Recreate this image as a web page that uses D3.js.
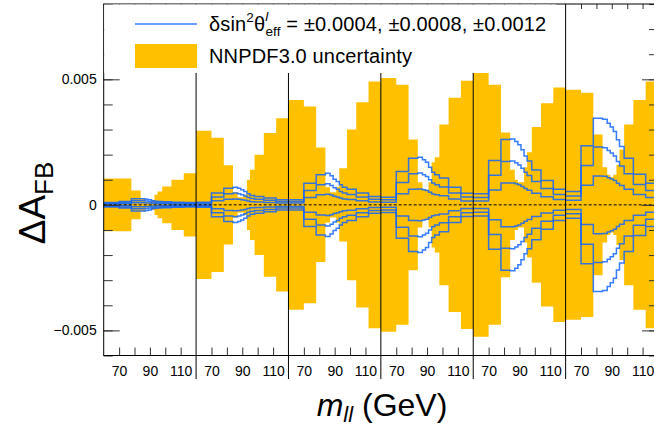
<!DOCTYPE html>
<html>
<head>
<meta charset="utf-8">
<script src="https://cdn.jsdelivr.net/npm/d3@7"></script>
<style>
body{margin:0;background:#fff;}
text{font-family:"Liberation Sans",Arial,sans-serif;fill:#000;}
</style>
</head>
<body>
<svg id="chart"></svg>
<script>
// mass bins (GeV), same in every panel
var massEdges = [60, 70, 78, 84, 87, 89, 91, 93, 95, 98, 104, 112, 120];
var panels = [1, 2, 3, 4, 5, 6];
var massTicks = [70, 80, 90, 100, 110];
var massLabels = [70, 90, 110];
var yMajor = [-0.005, 0, 0.005];
var yMinor = d3.range(-6, 9).map(function(k){return k*0.001;});

// NNPDF3.0 half width, one row per panel
var pdfUnc = [
  [0.00105, 0.00105, 0.00057, 0.00025, 0.00012, 0.0001, 0.0002, 0.0004, 0.00053, 0.00073, 0.0010, 0.00126],
  [0.00295, 0.00267, 0.00158, 0.0005, 0.0003, 0.0003, 0.0004, 0.0010, 0.0014, 0.0020, 0.00286, 0.00345],
  [0.00418, 0.00392, 0.00228, 0.0007, 0.0005, 0.0005, 0.0007, 0.00146, 0.00146, 0.0030, 0.00409, 0.00491],
  [0.00505, 0.00478, 0.0026, 0.0009, 0.0006, 0.0006, 0.0009, 0.0017, 0.0019, 0.0032, 0.00427, 0.00494],
  [0.00525, 0.00478, 0.00288, 0.0014, 0.0010, 0.0009, 0.0009, 0.0015, 0.0021, 0.0031, 0.00405, 0.00467],
  [0.00458, 0.00447, 0.0028, 0.0015, 0.0012, 0.0011, 0.0012, 0.0016, 0.0022, 0.0032, 0.00418, 0.00491]
];

// change of A_FB for +dsin2theta (the minus shifts are the mirror image)
var dAfb04 = [
  [0.00003, 0.00004, 0.00008, 0.00008, 0.00007, 0.00007, 0.00005, 0.00005, 0.00004, 0.00004, 0.00003, 0.00003],
  [0.00003, 0.00016, 0.00022, 0.00023, 0.00022, 0.0002, 0.00018, 0.00015, 0.00012, 0.00011, 0.00009, 0.00007],
  [0.00007, 0.00029, 0.0004, 0.00042, 0.00039, 0.00034, 0.00031, 0.00027, 0.00023, 0.00021, 0.00016, 0.00011],
  [0.0001, 0.00044, 0.00062, 0.00063, 0.0006, 0.00057, 0.0005, 0.00043, 0.0004, 0.00036, 0.00023, 0.00015],
  [0.00015, 0.00059, 0.00087, 0.00087, 0.00084, 0.0008, 0.00073, 0.00065, 0.00058, 0.00046, 0.00032, 0.00021],
  [0.00018, 0.00078, 0.00115, 0.00114, 0.00108, 0.00103, 0.00097, 0.00086, 0.00077, 0.00062, 0.00041, 0.00029]
];
var dAfb08 = [
  [0.00006, 0.00009, 0.00016, 0.00016, 0.00015, 0.00013, 0.00011, 0.00009, 0.00009, 0.00008, 0.00007, 0.00006],
  [0.00007, 0.00031, 0.00044, 0.00047, 0.00044, 0.0004, 0.00035, 0.00029, 0.00025, 0.00022, 0.00018, 0.00013],
  [0.00013, 0.00057, 0.0008, 0.00084, 0.00077, 0.00068, 0.00062, 0.00053, 0.00047, 0.00041, 0.00031, 0.00022],
  [0.0002, 0.00089, 0.00124, 0.00127, 0.0012, 0.00113, 0.001, 0.00087, 0.0008, 0.00071, 0.00047, 0.00031],
  [0.00029, 0.00118, 0.00173, 0.00175, 0.00168, 0.00159, 0.00146, 0.0013, 0.00117, 0.00093, 0.00065, 0.00041],
  [0.00035, 0.00157, 0.0023, 0.00227, 0.00217, 0.00207, 0.00195, 0.00173, 0.00155, 0.00124, 0.00081, 0.00057]
];
var dAfb12 = [
  [0.00009, 0.00013, 0.00024, 0.00024, 0.00022, 0.0002, 0.00016, 0.00014, 0.00013, 0.00012, 0.0001, 0.00009],
  [0.0001, 0.00047, 0.00066, 0.0007, 0.00066, 0.0006, 0.00053, 0.00044, 0.00037, 0.00033, 0.00027, 0.0002],
  [0.0002, 0.00086, 0.0012, 0.00126, 0.00116, 0.00102, 0.00093, 0.0008, 0.0007, 0.00062, 0.00047, 0.00033],
  [0.0003, 0.00133, 0.00186, 0.0019, 0.0018, 0.0017, 0.0015, 0.0013, 0.0012, 0.00107, 0.0007, 0.00046],
  [0.00044, 0.00177, 0.0026, 0.00262, 0.00252, 0.00239, 0.00219, 0.00195, 0.00175, 0.00139, 0.00097, 0.00062],
  [0.00053, 0.00235, 0.00345, 0.00341, 0.00325, 0.0031, 0.00292, 0.00259, 0.00232, 0.00186, 0.00122, 0.00086]
];

var screen = {width:654, height:427};
var plot = {left:103.7, right:658, top:4, bottom:355.5};
var lineBlue = "#1265ff";

var svg = d3.select("#chart")
    .attr("width", screen.width)
    .attr("height", screen.height);

var panelScale = d3.scaleBand()
    .domain(panels)
    .range([plot.left, plot.right]);

var massScale = d3.scaleLinear()
    .domain([60, 120])
    .range([0, panelScale.bandwidth()]);

var yScale = d3.scaleLinear()
    .domain([-0.006, 0.008])
    .range([plot.bottom, plot.top]);

var stepPoints = function(vals, p)
{
    return massEdges.map(function(m, j){
        return {x: panelScale(p) + massScale(m), v: vals[Math.min(j, vals.length-1)]};
    });
}

// orange bands
var bandArea = d3.area()
    .curve(d3.curveStepAfter)
    .x(function(d){return d.x;})
    .y0(function(d){return yScale(-d.v);})
    .y1(function(d){return yScale(d.v);});

svg.append("g").selectAll("path")
    .data(panels)
    .enter()
    .append("path")
    .attr("d", function(p, i){return bandArea(stepPoints(pdfUnc[i], p));})
    .style("fill", "#ffc000");

// shift lines
var shiftLine = d3.line()
    .curve(d3.curveStepAfter)
    .x(function(d){return d.x;})
    .y(function(d){return yScale(d.v);});

var lines = [];
[dAfb04, dAfb08, dAfb12].forEach(function(set){
    panels.forEach(function(p, i){
        [1, -1].forEach(function(s){
            lines.push(stepPoints(set[i].map(function(v){return s*v;}), p));
        });
    });
});

svg.append("g").selectAll("path")
    .data(lines)
    .enter()
    .append("path")
    .attr("d", shiftLine)
    .style("fill", "none")
    .style("stroke", lineBlue)
    .style("stroke-opacity", 0.85)
    .style("stroke-width", 1.5);

// panel separators
svg.append("g").selectAll("line")
    .data(panels.slice(1))
    .enter()
    .append("line")
    .attr("x1", function(p){return panelScale(p);})
    .attr("x2", function(p){return panelScale(p);})
    .attr("y1", plot.top)
    .attr("y2", 379)
    .style("stroke", "#000")
    .style("stroke-width", 1);

// zero line
svg.append("line")
    .attr("x1", plot.left).attr("x2", plot.right)
    .attr("y1", yScale(0)).attr("y2", yScale(0))
    .style("stroke", "#000")
    .style("stroke-width", 1)
    .style("stroke-dasharray", "3,2");

// axes
panels.forEach(function(p){
    var ps = d3.scaleLinear().domain([60, 120])
        .range([panelScale(p), panelScale(p) + panelScale.bandwidth()]);
    var bottom = svg.append("g")
        .attr("transform", "translate(0," + plot.bottom + ")")
        .call(d3.axisBottom(ps).tickValues(massTicks).tickSize(-8).tickPadding(11)
            .tickFormat(function(d){return massLabels.indexOf(d) >= 0 ? d : "";}));
    bottom.select(".domain").remove();
    bottom.selectAll("text").style("font-size", "14px").style("font-family", "Liberation Sans, Arial, sans-serif");
    var top = svg.append("g")
        .attr("transform", "translate(0," + plot.top + ")")
        .call(d3.axisTop(ps).tickValues(massTicks).tickSize(-5).tickFormat(""));
    top.select(".domain").remove();
});

var yFmt = function(d){return d === 0 ? "0" : d3.format(".3f")(d);};

var left = svg.append("g")
    .attr("transform", "translate(" + plot.left + ",0)")
    .call(d3.axisLeft(yScale).tickValues(yMinor).tickSize(-9).tickFormat(""));
left.select(".domain").remove();
var leftMaj = svg.append("g")
    .attr("transform", "translate(" + plot.left + ",0)")
    .call(d3.axisLeft(yScale).tickValues(yMajor).tickSize(-16).tickPadding(7).tickFormat(yFmt));
leftMaj.select(".domain").remove();
leftMaj.selectAll("text").style("font-size", "14px").style("font-family", "Liberation Sans, Arial, sans-serif");

var right = svg.append("g")
    .attr("transform", "translate(" + plot.right + ",0)")
    .call(d3.axisRight(yScale).tickValues(yMinor).tickSize(-9).tickFormat(""));
right.select(".domain").remove();
var rightMaj = svg.append("g")
    .attr("transform", "translate(" + plot.right + ",0)")
    .call(d3.axisRight(yScale).tickValues(yMajor).tickSize(-16).tickFormat(""));
rightMaj.select(".domain").remove();

svg.selectAll(".tick line").style("stroke", "#333");

// frame
svg.append("rect")
    .attr("x", plot.left).attr("y", plot.top)
    .attr("width", plot.right - plot.left)
    .attr("height", plot.bottom - plot.top)
    .style("fill", "none")
    .style("stroke", "#000")
    .style("stroke-width", 1);

// legend
var legend = svg.append("g");
legend.append("rect")
    .attr("x", plot.left + 0.5).attr("y", plot.top + 0.5)
    .attr("width", 452).attr("height", 68.5)
    .style("fill", "#fff");
legend.append("line")
    .attr("x1", 135).attr("x2", 197)
    .attr("y1", 24).attr("y2", 24)
    .style("stroke", lineBlue)
    .style("stroke-opacity", 0.85)
    .style("stroke-width", 1.3);
legend.append("rect")
    .attr("x", 135).attr("y", 44)
    .attr("width", 62).attr("height", 24)
    .style("fill", "#ffc000");

var t1 = legend.append("text")
    .attr("x", 209).attr("y", 31)
    .style("font-size", "20px")
    .style("letter-spacing", "0.15px");
t1.append("tspan").text("\u03b4sin");
t1.append("tspan").attr("dy", -9).style("font-size", "13.5px").text("2");
t1.append("tspan").attr("dy", 9).text("\u03b8");
t1.append("tspan").attr("dy", -10).style("font-size", "13.5px").style("font-style", "italic").text("l");
t1.append("tspan").attr("dy", 15).attr("dx", -3).style("font-size", "13.5px").text("eff");
t1.append("tspan").attr("dy", -5).text(" = \u00b10.0004, \u00b10.0008, \u00b10.0012");

legend.append("text")
    .attr("x", 209).attr("y", 63)
    .style("font-size", "20px")
    .style("letter-spacing", "0.15px")
    .text("NNPDF3.0 uncertainty");

// axis titles
var yt = svg.append("text")
    .attr("transform", "translate(45,203) rotate(-90)")
    .attr("text-anchor", "middle")
    .style("font-size", "37px");
yt.append("tspan").text("\u0394A");
yt.append("tspan").attr("dy", 8).style("font-size", "26px").text("FB");

var xt = svg.append("text")
    .attr("x", 382).attr("y", 416)
    .attr("text-anchor", "middle")
    .style("font-size", "32px");
xt.append("tspan").style("font-style", "italic").text("m");
xt.append("tspan").attr("dy", 6).style("font-style", "italic").style("font-size", "22px").text("ll");
xt.append("tspan").attr("dy", -6).text(" (GeV)");
</script>
</body>
</html>
